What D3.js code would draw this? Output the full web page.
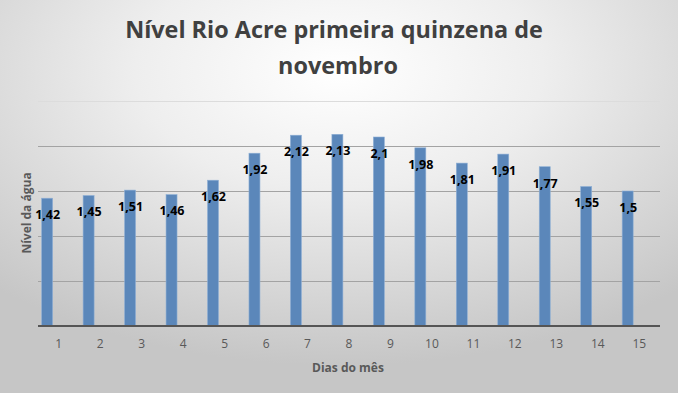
<!DOCTYPE html>
<html><head><meta charset="utf-8">
<script src="https://cdn.jsdelivr.net/npm/d3@7"></script>
<style>html,body{margin:0;padding:0;overflow:hidden;background:#fff}</style>
</head><body>
<script>
const days = ["1","2","3","4","5","6","7","8","9","10","11","12","13","14","15"];
const levels = [1.42,1.45,1.51,1.46,1.62,1.92,2.12,2.13,2.1,1.98,1.81,1.91,1.77,1.55,1.5];
const yTicks = [0,0.5,1,1.5,2,2.5];
const titleLines = ["Nível Rio Acre primeira quinzena de","novembro"];
const xTitle = "Dias do mês";
const yTitle = "Nível da água";

const W=678,H=393;
const svg=d3.select("body").append("svg").attr("width",W).attr("height",H);
const defs=svg.append("defs");
const rg=defs.append("radialGradient").attr("id","bg").attr("cx","50%").attr("cy","18%").attr("r","75%").attr("fx","50%").attr("fy","18%");
rg.append("stop").attr("offset","0%").attr("stop-color","#ffffff");
rg.append("stop").attr("offset","40%").attr("stop-color","#eeeeee");
rg.append("stop").attr("offset","100%").attr("stop-color","#c6c6c6");
svg.append("rect").attr("width",W).attr("height",H).attr("fill","url(#bg)");

const L=38,R=660,T=101,B=326;
const x=d3.scaleBand().domain(days).range([L,R]);
const y=d3.scaleLinear().domain([0,2.5]).range([B,T]);

// gridlines
svg.append("g").selectAll("line").data(yTicks.filter(d=>d>0)).join("line")
  .attr("x1",L).attr("x2",R).attr("y1",d=>Math.round(y(d))+0.5).attr("y2",d=>Math.round(y(d))+0.5)
  .attr("stroke",d=>d===2.5?"#dcdcdc":"#a3a3a3").attr("stroke-width",1);

const barW=11, off=-11.6;
svg.append("g").selectAll("rect").data(levels).join("rect")
  .attr("x",(d,i)=>x(days[i])+x.bandwidth()/2+off-barW/2)
  .attr("width",barW)
  .attr("y",d=>y(d)).attr("height",d=>B-y(d))
  .attr("fill","#5b87ba").attr("stroke","#8fb0d6").attr("stroke-width",0.6);

// value labels
svg.append("g").selectAll("text").data(levels).join("text")
  .attr("x",(d,i)=>x(days[i])+x.bandwidth()/2+off+0.5)
  .attr("y",d=>y(d)+16.3)
  .attr("dominant-baseline","central").attr("text-anchor","middle")
  .attr("font-family","Open Sans").attr("font-weight","bold").attr("font-size","12.5px")
  .attr("fill","#000")
  .text(d=>String(d).replace(".",","));

// x axis
const xa=svg.append("g").attr("transform",`translate(0,${B})`)
  .call(d3.axisBottom(x).tickSize(0).tickPadding(13));
xa.select(".domain").attr("stroke","#555555").attr("stroke-width",2).attr("d",`M${L},0H${R}`);
xa.selectAll("text").attr("font-family","Open Sans").attr("font-size","12px").attr("fill","#595959");

// axis titles
svg.append("text").attr("x",348).attr("y",372).attr("text-anchor","middle")
  .attr("font-family","Open Sans").attr("font-weight","bold").attr("font-size","12px").attr("fill","#595959").text(xTitle);
svg.append("text").attr("transform","translate(31,213) rotate(-90)").attr("text-anchor","middle")
  .attr("font-family","Open Sans").attr("font-weight","bold").attr("font-size","12px").attr("fill","#595959").text(yTitle);

// title
const tt=svg.append("text").attr("text-anchor","middle").attr("font-family","Open Sans").attr("font-weight","bold").attr("fill","#404040").attr("font-size","24px");
const t1=tt.append("tspan").attr("x",334).attr("y",38).text(titleLines[0]);
tt.append("tspan").attr("x",338).attr("y",74).text(titleLines[1]);
const w=t1.node().getComputedTextLength();
tt.attr("font-size",(24*418/w)+"px");
</script>
</body></html>
